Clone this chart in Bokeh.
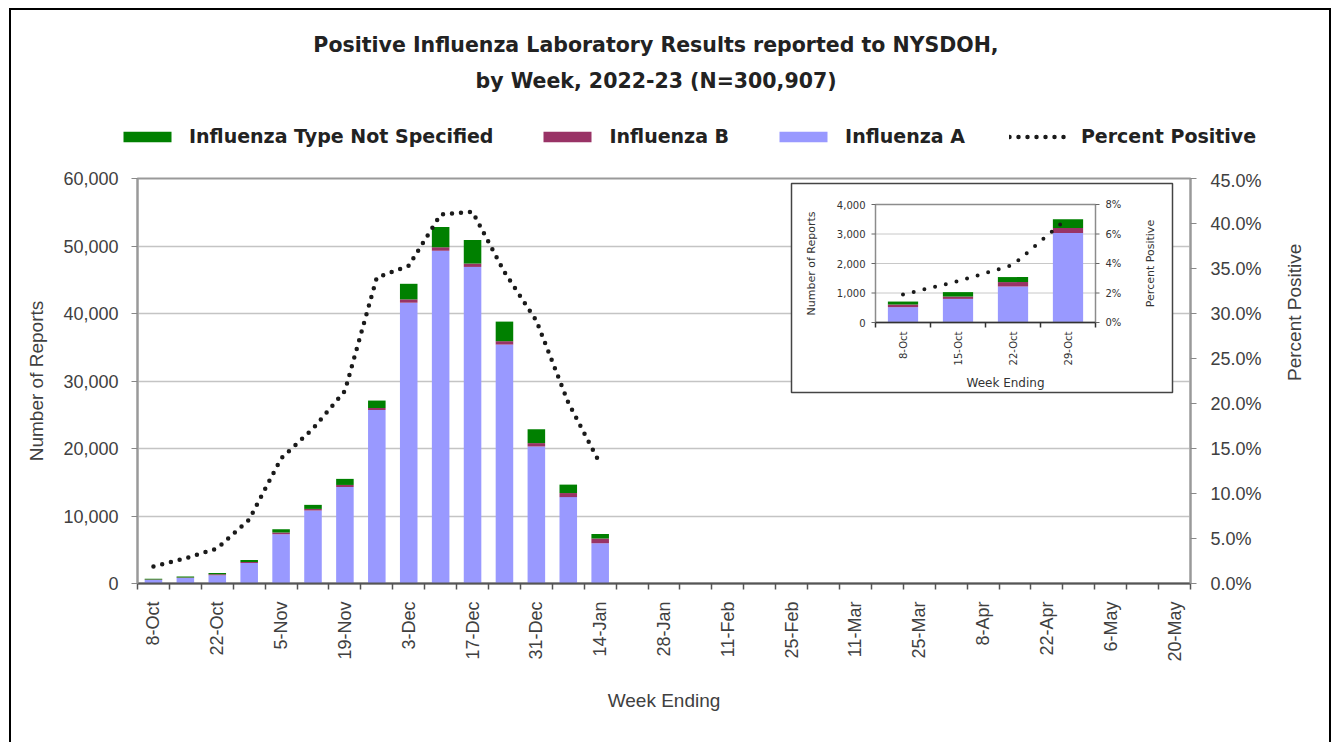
import math
from bokeh.plotting import figure
from bokeh.layouts import column
from bokeh.models import (Range1d, LinearAxis, FixedTicker, NumeralTickFormatter,
                          PrintfTickFormatter, Legend, LegendItem, Title,
                          ColumnDataSource)
from bokeh.core.properties import value
from bokeh.embed import file_html
from bokeh.resources import INLINE

# ---------------- data ----------------
weeks = ["8-Oct", "15-Oct", "22-Oct", "29-Oct", "5-Nov", "12-Nov", "19-Nov", "26-Nov",
         "3-Dec", "10-Dec", "17-Dec", "24-Dec", "31-Dec", "7-Jan", "14-Jan", "21-Jan",
         "28-Jan", "4-Feb", "11-Feb", "18-Feb", "25-Feb", "4-Mar", "11-Mar", "18-Mar",
         "25-Mar", "1-Apr", "8-Apr", "15-Apr", "22-Apr", "29-Apr", "6-May", "13-May", "20-May"]
flu_a = [520, 800, 1220, 3030, 7300, 10800, 14300, 25700, 41600, 49300, 46900, 35400, 20300, 12800, 5950]
flu_b = [90, 80, 150, 170, 250, 250, 300, 300, 500, 500, 500, 500, 500, 600, 700]
flu_ns = [100, 150, 170, 300, 500, 600, 900, 1100, 2300, 3000, 3500, 2900, 2050, 1250, 700]
pct_pos = [1.9, 2.8, 3.9, 7.1, 13.9, 17.2, 21.4, 34.0, 35.3, 41.0, 41.3, 34.6, 29.2, 20.1, 13.3]
inset_n = 4
y_ticks = [0, 10000, 20000, 30000, 40000, 50000, 60000]
pct_ticks = [0, 5, 10, 15, 20, 25, 30, 35, 40, 45]
inset_y_ticks = [0, 1000, 2000, 3000, 4000]
inset_pct_ticks = [0, 2, 4, 6, 8]
series_labels = ["Influenza A", "Influenza B", "Influenza Type Not Specified"]
line_label = "Percent Positive"
title_lines = ["Positive Influenza Laboratory Results reported to NYSDOH,",
               "by Week, 2022-23 (N=300,907)"]

C_A = "#9999FF"
C_B = "#993366"
C_NS = "#008000"
COLORS = [C_A, C_B, C_NS]
AX_FONT = "Liberation Sans"
IN_FONT = "DejaVu Sans"
TXT = "#404040"

# ---------------- layout geometry (page pixels) ----------------
W, H = 1337, 742
HEAD_H = 170                                    # header (titles + legend) height
FRAME = dict(l=137, r=1190, t=178, b=583)       # main plot area
IN_FRAME = dict(l=875, r=1095, t=204, b=322)    # inset plot area
IN_BOX = dict(l=791, r=1172, t=183, b=392)      # inset outer box
LEGEND_BL = (117, 147)                          # legend bottom-left corner


def x_extra(d0, d1):
    s = (d1 - d0) / (IN_FRAME["r"] - IN_FRAME["l"])
    return Range1d(d0 + (FRAME["l"] - IN_FRAME["l"]) * s, d0 + (FRAME["r"] - IN_FRAME["l"]) * s), s


def y_extra(d0, d1):
    s = (d1 - d0) / (IN_FRAME["b"] - IN_FRAME["t"])
    return Range1d(d0 - (FRAME["b"] - IN_FRAME["b"]) * s, d0 + (IN_FRAME["b"] - FRAME["t"]) * s), s


def border_css(top, extra):
    return [":host { position: relative; }",
            ":host::after { content: ''; position: absolute; left: 9px; right: 6px; top: %s; bottom: 0px;"
            " border: 2px solid #000; %s border-bottom: none; pointer-events: none; z-index: 50; }"
            % (top, extra)]


src = ColumnDataSource(dict(x=list(range(len(flu_a))), a=flu_a, b=flu_b, ns=flu_ns, pct=pct_pos))

# ---------------- header: titles + legend ----------------
head = figure(width=W, height=HEAD_H, title=None, output_backend="svg", toolbar_location=None,
              x_axis_type=None, y_axis_type=None,
              x_range=Range1d(-0.5, len(weeks) - 0.5), y_range=Range1d(1e6, 2e6),
              min_border_left=0, min_border_right=26, min_border_bottom=0, min_border_top=96)
if "frame_align" in head.properties():
    head.frame_align = False
head.outline_line_color = None
head.grid.visible = False
head.background_fill_color = "white"
head.border_fill_color = "white"
head.stylesheets = border_css("8px", "")
# same series as the chart; the header's y-range lies far above the data, so only the legend shows them
h_bars = head.vbar_stack(["a", "b", "ns"], x="x", width=0.55, source=src, color=COLORS, line_color=None)
h_line = head.line("x", "pct", source=src, line_color="#1a1a1a", line_width=4.5,
                   line_dash="0 9", line_cap="round")
legend = Legend(items=[
    LegendItem(label=series_labels[2], renderers=[h_bars[2]]),
    LegendItem(label=series_labels[1], renderers=[h_bars[1]]),
    LegendItem(label=series_labels[0], renderers=[h_bars[0]]),
    LegendItem(label=line_label, renderers=[h_line]),
], orientation="horizontal", location=(LEGEND_BL[0], HEAD_H - LEGEND_BL[1]))
legend.glyph_width = 60
legend.glyph_height = 13
legend.label_standoff = 12
legend.spacing = 44
legend.padding = 0
legend.margin = 0
legend.border_line_color = None
legend.background_fill_alpha = 0
legend.label_text_font = "DejaVu Sans"
legend.label_text_font_style = "bold"
legend.label_text_font_size = "19px"
legend.label_text_color = "#222222"
head.add_layout(legend, "center")
head.add_layout(Title(text=title_lines[1], align="center", text_font="DejaVu Sans",
                      text_font_style="bold", text_font_size="20.5px", text_color="#222222",
                      standoff=8), "above")
head.add_layout(Title(text=title_lines[0], align="center", text_font="DejaVu Sans",
                      text_font_style="bold", text_font_size="20.5px", text_color="#222222",
                      standoff=12), "above")

# ---------------- main figure ----------------
p = figure(width=W, height=H - HEAD_H, title=None, output_backend="svg", toolbar_location=None,
           x_range=Range1d(-0.5, len(weeks) - 0.5), y_range=Range1d(0, 60000),
           min_border_left=FRAME["l"], min_border_right=W - FRAME["r"],
           min_border_top=FRAME["t"] - HEAD_H, min_border_bottom=H - FRAME["b"])
if "frame_align" in p.properties():
    p.frame_align = False
p.stylesheets = border_css("0px", "border-top: none;")
p.outline_line_color = "#999999"
p.outline_line_width = 2
p.background_fill_color = "white"
p.border_fill_color = "white"

ix_range, sx = x_extra(-0.5, inset_n - 0.5)
iy_range, sy = y_extra(0, inset_y_ticks[-1])
ip_range, sp = y_extra(0, inset_pct_ticks[-1])
p.extra_y_ranges = {"pct": Range1d(0, 45), "iy": iy_range, "ip": ip_range}
p.extra_x_ranges = {"ix": ix_range}

bars = p.vbar_stack(["a", "b", "ns"], x="x", width=0.55, source=src,
                    color=COLORS, line_color=None)
line_r = p.line("x", "pct", source=src, y_range_name="pct", line_color="#1a1a1a",
                line_width=4.5, line_dash="0 9", line_cap="round")

p.xgrid.visible = False
p.ygrid.ticker = FixedTicker(ticks=y_ticks)
p.ygrid.grid_line_color = "#c4c4c4"
p.ygrid.grid_line_width = 1.5

# x axis
p.xaxis.ticker = FixedTicker(ticks=list(range(0, len(weeks), 2)),
                             minor_ticks=[i - 0.5 for i in range(len(weeks) + 1)])
p.xaxis.major_label_overrides = {i: w for i, w in enumerate(weeks)}
p.xaxis.major_label_orientation = math.pi / 2
p.xaxis.major_tick_out = 0
p.xaxis.major_tick_in = 0
p.xaxis.minor_tick_out = 6
p.xaxis.minor_tick_in = 0
p.xaxis.minor_tick_line_color = "#555555"
p.xaxis.minor_tick_line_width = 1.5
p.xaxis.axis_line_color = "#555555"
p.xaxis.axis_line_width = 2
p.xaxis.major_label_standoff = 12
p.xaxis.major_label_text_font = AX_FONT
p.xaxis.major_label_text_font_size = "18px"
p.xaxis.major_label_text_color = TXT
p.xaxis.axis_label = "Week Ending"
p.xaxis.axis_label_text_font = AX_FONT
p.xaxis.axis_label_text_font_size = "19px"
p.xaxis.axis_label_text_font_style = "normal"
p.xaxis.axis_label_text_color = TXT
p.xaxis.axis_label_standoff = 25

# left axis
p.yaxis.ticker = FixedTicker(ticks=y_ticks)
p.yaxis.formatter = NumeralTickFormatter(format="0,0")
p.yaxis.minor_tick_line_color = None
p.yaxis.major_tick_out = 6
p.yaxis.major_tick_in = 0
p.yaxis.major_tick_line_color = "#888888"
p.yaxis.axis_line_color = "#999999"
p.yaxis.axis_line_width = 2
p.yaxis.major_label_standoff = 13
p.yaxis.major_label_text_font = AX_FONT
p.yaxis.major_label_text_font_size = "18px"
p.yaxis.major_label_text_color = TXT
p.yaxis.axis_label = "Number of Reports"
p.yaxis.axis_label_text_font = AX_FONT
p.yaxis.axis_label_text_font_size = "19px"
p.yaxis.axis_label_text_font_style = "normal"
p.yaxis.axis_label_text_color = TXT
p.yaxis.axis_label_standoff = 13

# right axis
ra = LinearAxis(y_range_name="pct", ticker=FixedTicker(ticks=pct_ticks),
                formatter=PrintfTickFormatter(format="%.1f%%"),
                axis_label=line_label)
ra.minor_tick_line_color = None
ra.major_tick_out = 6
ra.major_tick_in = 0
ra.major_tick_line_color = "#888888"
ra.axis_line_color = "#999999"
ra.axis_line_width = 2
ra.major_label_standoff = 14
ra.major_label_text_font = AX_FONT
ra.major_label_text_font_size = "18px"
ra.major_label_text_color = TXT
ra.axis_label_text_font = AX_FONT
ra.axis_label_text_font_size = "19px"
ra.axis_label_text_font_style = "normal"
ra.axis_label_text_color = TXT
ra.axis_label_standoff = 30
if "axis_label_orientation" in ra.properties():
    ra.axis_label_orientation = math.pi / 2
p.add_layout(ra, "right")

# ---------------- inset (drawn inside the main plot area) ----------------
IX = dict(x_range_name="ix", y_range_name="iy")
IP = dict(x_range_name="ix", y_range_name="ip")
x_lo, x_hi = -0.5, inset_n - 0.5
# outer box
p.quad(left=[x_lo + (IN_BOX["l"] - IN_FRAME["l"]) * sx], right=[x_hi + (IN_BOX["r"] - IN_FRAME["r"]) * sx],
       top=[inset_y_ticks[-1] + (IN_FRAME["t"] - IN_BOX["t"]) * sy], bottom=[-(IN_BOX["b"] - IN_FRAME["b"]) * sy],
       fill_color="white", line_color="#444444", line_width=1.5, **IX)
# gridlines
p.segment(x0=[x_lo] * (len(inset_y_ticks) - 1), x1=[x_hi] * (len(inset_y_ticks) - 1),
          y0=inset_y_ticks[1:], y1=inset_y_ticks[1:], line_color="#c8c8c8", line_width=1, **IX)
# bars + line
isrc = ColumnDataSource(dict(x=list(range(inset_n)), a=flu_a[:inset_n], b=flu_b[:inset_n],
                             ns=flu_ns[:inset_n], pct=pct_pos[:inset_n]))
p.vbar_stack(["a", "b", "ns"], x="x", width=0.55, source=isrc,
             color=COLORS, line_color=None, **IX)
p.line("x", "pct", source=isrc, line_color="#1a1a1a",
       line_width=4, line_dash="0 11", line_cap="round", **IP)
# frame
p.quad(left=[x_lo], right=[x_hi], top=[inset_y_ticks[-1]], bottom=[0],
       fill_color=None, line_color="#8c8c8c", line_width=1.5, **IX)
p.segment(x0=[x_lo], x1=[x_hi], y0=[0], y1=[0], line_color="#333333", line_width=1.5, **IX)
# ticks
nb = inset_n + 1
p.segment(x0=[i - 0.5 for i in range(nb)], x1=[i - 0.5 for i in range(nb)],
          y0=[0] * nb, y1=[-5 * sy] * nb, line_color="#333333", line_width=1.5, **IX)
p.segment(x0=[x_lo] * len(inset_y_ticks), x1=[x_lo - 4 * sx] * len(inset_y_ticks),
          y0=inset_y_ticks, y1=inset_y_ticks, line_color="#666666", line_width=1, **IX)
p.segment(x0=[x_hi] * len(inset_pct_ticks), x1=[x_hi + 4 * sx] * len(inset_pct_ticks),
          y0=inset_pct_ticks, y1=inset_pct_ticks, line_color="#666666", line_width=1, **IP)
# tick labels
p.text(x=[x_lo] * len(inset_y_ticks), y=inset_y_ticks, text=[f"{v:,}" for v in inset_y_ticks],
       x_offset=-10, text_align="right", text_baseline="middle", text_font=value(IN_FONT),
       text_font_size="10px", text_color="#333333", **IX)
p.text(x=[x_hi] * len(inset_pct_ticks), y=inset_pct_ticks, text=[f"{v}%" for v in inset_pct_ticks],
       x_offset=10, text_align="left", text_baseline="middle", text_font=value(IN_FONT),
       text_font_size="10px", text_color="#333333", **IP)
p.text(x=list(range(inset_n)), y=[0] * inset_n, text=weeks[:inset_n], angle=math.pi / 2,
       y_offset=9, text_align="right", text_baseline="middle", text_font=value(IN_FONT),
       text_font_size="10px", text_color="#333333", **IX)
# axis labels
p.text(x=[x_lo], y=[inset_y_ticks[-1] / 2], text=["Number of Reports"], angle=math.pi / 2,
       x_offset=-64, text_align="center", text_baseline="middle", text_font=value(IN_FONT),
       text_font_size="11px", text_color="#333333", **IX)
p.text(x=[x_hi], y=[inset_pct_ticks[-1] / 2], text=[line_label], angle=math.pi / 2,
       x_offset=55, text_align="center", text_baseline="middle", text_font=value(IN_FONT),
       text_font_size="11px", text_color="#333333", **IP)
p.text(x=[(x_lo + x_hi) / 2], y=[0], text=["Week Ending"], x_offset=20, y_offset=60,
       text_align="center", text_baseline="middle", text_font=value(IN_FONT),
       text_font_size="12px", text_color="#333333", **IX)

root = column(head, p)
open("out.html", "w").write(file_html(root, INLINE))
